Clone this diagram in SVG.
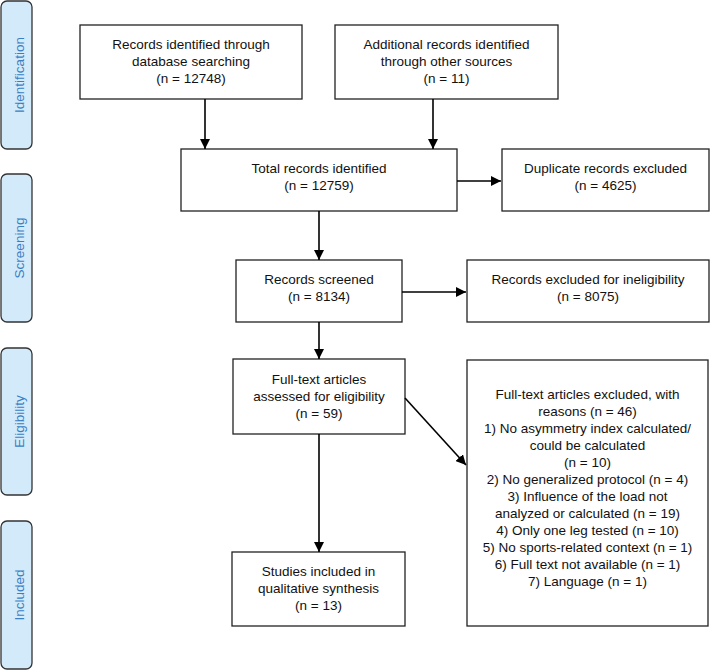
<svg xmlns="http://www.w3.org/2000/svg" width="710" height="670" viewBox="0 0 710 670">
<defs>
<marker id="ah" viewBox="0 0 10 10" refX="10" refY="5" markerWidth="10" markerHeight="10" markerUnits="userSpaceOnUse" orient="auto">
<path d="M0,0 L10,5 L0,10 z" fill="#000"/>
</marker>
<style>
.box{fill:#fff;stroke:#222;stroke-width:1.3}
.side{fill:#d3eafa;stroke:#333;stroke-width:1.3}
text{font-family:"Liberation Sans",Arial,sans-serif;font-size:13.5px;fill:#111;text-anchor:middle}
.st{fill:#3a7fc4}
.conn{stroke:#000;stroke-width:1.6;fill:none;marker-end:url(#ah)}
</style>
</defs>
<rect width="710" height="670" fill="#fff"/>
<g id="side-identification">
<rect class="side" x="1" y="1" width="31" height="148" rx="6"/>
<text class="st" transform="translate(23.5,75) rotate(-90)">Identification</text>
</g>
<g id="side-screening">
<rect class="side" x="1" y="174" width="31" height="148" rx="6"/>
<text class="st" transform="translate(23.5,248) rotate(-90)">Screening</text>
</g>
<g id="side-eligibility">
<rect class="side" x="1" y="348" width="31" height="147" rx="6"/>
<text class="st" transform="translate(23.5,421.5) rotate(-90)">Eligibility</text>
</g>
<g id="side-included">
<rect class="side" x="1" y="521" width="31" height="148" rx="6"/>
<text class="st" transform="translate(23.5,595) rotate(-90)">Included</text>
</g>
<g id="n-database">
<rect class="box" x="80" y="25" width="222" height="74"/>
<text x="191" y="48.5">Records identified through</text>
<text x="191" y="65.5">database searching</text>
<text x="191" y="83">(n = 12748)</text>
</g>
<g id="n-other">
<rect class="box" x="335" y="25" width="223" height="74"/>
<text x="446.5" y="48.5">Additional records identified</text>
<text x="446.5" y="65.5">through other sources</text>
<text x="446.5" y="83">(n = 11)</text>
</g>
<g id="n-total">
<rect class="box" x="181" y="149" width="276" height="62"/>
<text x="319" y="172.5">Total records identified</text>
<text x="319" y="189.5">(n = 12759)</text>
</g>
<g id="n-duplicate">
<rect class="box" x="502" y="149" width="207" height="62"/>
<text x="605.5" y="172.5">Duplicate records excluded</text>
<text x="605.5" y="189.5">(n = 4625)</text>
</g>
<g id="n-screened">
<rect class="box" x="236" y="260" width="166" height="62"/>
<text x="319" y="283.5">Records screened</text>
<text x="319" y="301">(n = 8134)</text>
</g>
<g id="n-ineligible">
<rect class="box" x="467" y="260" width="242" height="62"/>
<text x="588" y="283.5">Records excluded for ineligibility</text>
<text x="588" y="301">(n = 8075)</text>
</g>
<g id="n-fulltext">
<rect class="box" x="233" y="359" width="172" height="75"/>
<text x="319" y="383.5">Full-text articles</text>
<text x="319" y="400.5">assessed for eligibility</text>
<text x="319" y="417.5">(n = 59)</text>
</g>
<g id="n-excluded">
<rect class="box" x="467" y="360" width="241" height="266"/>
<text x="587.5" y="398.5">Full-text articles excluded, with</text>
<text x="587.5" y="415.5">reasons (n = 46)</text>
<text x="587.5" y="432.5">1) No asymmetry index calculated/</text>
<text x="587.5" y="449.5">could be calculated</text>
<text x="587.5" y="466.5">(n = 10)</text>
<text x="587.5" y="483.5">2) No generalized protocol (n = 4)</text>
<text x="587.5" y="500.5">3) Influence of the load not</text>
<text x="587.5" y="517.5">analyzed or calculated (n = 19)</text>
<text x="587.5" y="534.5">4) Only one leg tested (n = 10)</text>
<text x="587.5" y="551.5">5) No sports-related context (n = 1)</text>
<text x="587.5" y="568.5">6) Full text not available (n = 1)</text>
<text x="587.5" y="585.5">7) Language (n = 1)</text>
</g>
<g id="n-included">
<rect class="box" x="232" y="552" width="173" height="74"/>
<text x="318.5" y="575.5">Studies included in</text>
<text x="318.5" y="592.5">qualitative synthesis</text>
<text x="318.5" y="609.5">(n = 13)</text>
</g>
<g id="connectors">
<line class="conn" x1="205" y1="99" x2="205" y2="149"/>
<line class="conn" x1="433" y1="99" x2="433" y2="149"/>
<line class="conn" x1="457" y1="181" x2="501" y2="181"/>
<line class="conn" x1="319" y1="211" x2="319" y2="260"/>
<line class="conn" x1="402" y1="292" x2="466" y2="292"/>
<line class="conn" x1="319" y1="322" x2="319" y2="359"/>
<line class="conn" x1="405" y1="398" x2="466" y2="465"/>
<line class="conn" x1="319" y1="434" x2="319" y2="552"/>
</g>
</svg>
